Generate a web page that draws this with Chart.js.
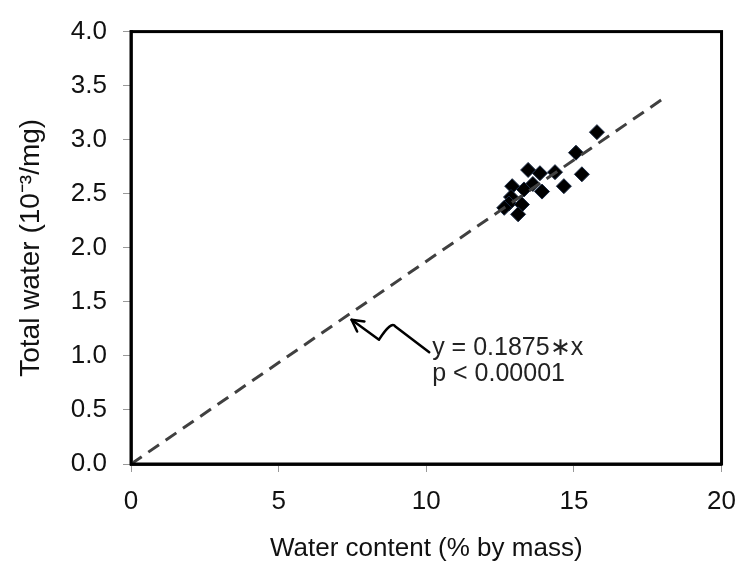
<!DOCTYPE html>
<html>
<head>
<meta charset="utf-8">
<script src="https://cdn.jsdelivr.net/npm/chart.js@4/dist/chart.umd.min.js"></script>
<style>
  html, body { margin: 0; padding: 0; background: #fff; }
  #wrap { width: 750px; height: 570px; }
</style>
</head>
<body>
<div id="wrap"><canvas id="chart"></canvas></div>
<script>
// measured points (water content %, total water 10^-3/mg)
const waterContent = [15.78, 15.07, 15.27, 14.66, 14.36, 13.85, 13.45, 13.61, 13.92, 12.91, 13.31, 12.87, 12.80, 12.64, 13.24, 13.11];
const totalWater = [3.07, 2.88, 2.68, 2.57, 2.70, 2.69, 2.72, 2.59, 2.52, 2.57, 2.54, 2.47, 2.41, 2.37, 2.40, 2.31];

// regression y = 0.1875 * x, drawn from 0 to 18
const fitX = [0, 18];
const fitY = [0, 3.375];

const xTicks = [0, 5, 10, 15, 20];
const yTicks = [0, 0.5, 1.0, 1.5, 2.0, 2.5, 3.0, 3.5, 4.0];

const noteLines = ['y = 0.1875\u2217x', 'p < 0.00001'];
// zigzag arrow, in data units: head first
const arrowX = [7.47, 8.40, 8.75, 10.10];
const arrowY = [1.334, 1.150, 1.290, 1.034];
const noteX = 10.2;
const noteY = [1.075, 0.834];

const FONT = 'Liberation Sans, Arial, sans-serif';

const framePlugin = {
  id: 'frame',
  afterDraw(chart) {
    const { ctx, chartArea: a, scales } = chart;
    ctx.save();
    ctx.strokeStyle = '#000';
    ctx.lineWidth = 3;
    ctx.strokeRect(a.left, a.top, a.right - a.left, a.bottom - a.top);

    // annotation arrow
    const xs = scales.x, ys = scales.y;
    const pts = arrowX.map((v, i) => [xs.getPixelForValue(v), ys.getPixelForValue(arrowY[i])]);
    ctx.strokeStyle = '#000';
    ctx.lineWidth = 2.5;
    ctx.lineJoin = 'round';
    ctx.lineCap = 'round';
    ctx.beginPath();
    ctx.moveTo(pts[0][0], pts[0][1]);
    // soften the middle of the zigzag a little
    ctx.lineTo(pts[1][0], pts[1][1]);
    ctx.quadraticCurveTo(pts[2][0] + 2, pts[2][1] - 4, pts[2][0] + 6, pts[2][1] + 2);
    ctx.lineTo(pts[3][0], pts[3][1]);
    ctx.stroke();
    // arrow head
    const [hx, hy] = pts[0];
    const ang = Math.atan2(pts[1][1] - hy, pts[1][0] - hx);
    ctx.beginPath();
    ctx.moveTo(hx + 13 * Math.cos(ang - 0.5), hy + 13 * Math.sin(ang - 0.5));
    ctx.lineTo(hx, hy);
    ctx.lineTo(hx + 13 * Math.cos(ang + 0.5), hy + 13 * Math.sin(ang + 0.5));
    ctx.stroke();

    ctx.fillStyle = '#222';
    ctx.font = '25px ' + FONT;
    ctx.textBaseline = 'middle';
    ctx.textAlign = 'left';
    noteLines.forEach((t, i) => {
      ctx.fillText(t, xs.getPixelForValue(noteX), ys.getPixelForValue(noteY[i]));
    });
    ctx.restore();
  }
};

new Chart(document.getElementById('chart'), {
  type: 'scatter',
  data: {
    datasets: [
      {
        type: 'line',
        data: fitX.map((x, i) => ({ x, y: fitY[i] })),
        borderColor: '#404040',
        borderWidth: 3,
        borderDash: [13, 8],
        pointRadius: 0,
        fill: false
      },
      {
        data: waterContent.map((x, i) => ({ x, y: totalWater[i] })),
        pointStyle: 'rectRot',
        pointRadius: 7.5,
        backgroundColor: '#000',
        borderColor: '#1a2a44',
        borderWidth: 1
      }
    ]
  },
  options: {
    responsive: true,
    maintainAspectRatio: false,
    animation: false,
    layout: { padding: { top: 23, right: 27, left: 0, bottom: 0 } },
    plugins: { legend: { display: false }, tooltip: { enabled: false } },
    scales: {
      x: {
        type: 'linear',
        min: 0, max: 20,
        afterFit(s) { s.height = 106; },
        afterBuildTicks(s) { s.ticks = xTicks.map(v => ({ value: v })); },
        grid: { drawOnChartArea: false, color: '#999', tickLength: 8 },
        border: { color: '#222', width: 3 },
        ticks: { color: '#111', font: { family: FONT, size: 26 }, padding: 14 },
        title: {
          display: true,
          text: 'Water content (% by mass)',
          color: '#111',
          font: { family: FONT, size: 26 },
          padding: { top: 0, bottom: 6 }
        }
      },
      y: {
        type: 'linear',
        min: 0, max: 4,
        afterFit(s) { s.width = 131; },
        afterBuildTicks(s) { s.ticks = yTicks.map(v => ({ value: v })); },
        grid: { drawOnChartArea: false, color: '#999', tickLength: 8 },
        border: { color: '#444', width: 3 },
        ticks: {
          color: '#111',
          font: { family: FONT, size: 26 },
          padding: 16,
          callback: v => v.toFixed(1)
        },
        title: {
          display: true,
          text: 'Total water (10\u207B\u00B3/mg)',
          color: '#111',
          font: { family: FONT, size: 28 },
          padding: { top: 14, bottom: 0 }
        }
      }
    }
  },
  plugins: [framePlugin]
});
</script>
</body>
</html>
